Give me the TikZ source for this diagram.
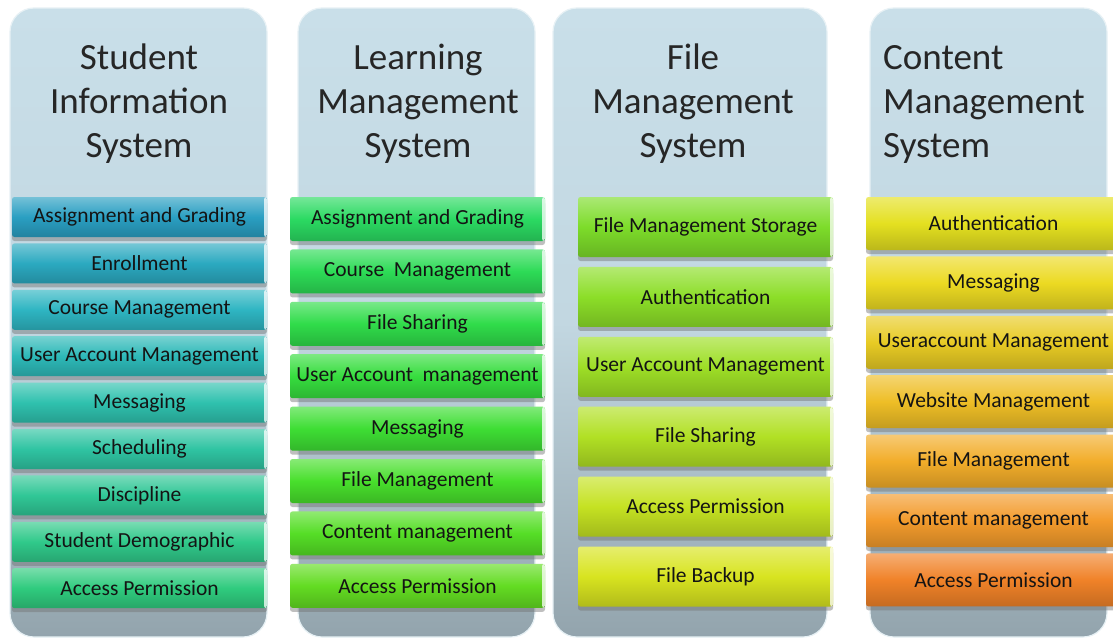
\documentclass[tikz,border=0pt]{standalone}
\usepackage{fontspec}
\setmainfont{Carlito}
\usetikzlibrary{positioning, shadows}

% Panel colours
\definecolor{panelTop}{HTML}{C9DFE9}
\definecolor{panelMid}{HTML}{C2D7E1}
\definecolor{panelBot}{HTML}{93A4AD}

% Student Information System
\definecolor{sisA}{HTML}{2A9FC2}
\definecolor{sisB}{HTML}{2BA9C0}
\definecolor{sisC}{HTML}{2EB5C2}
\definecolor{sisD}{HTML}{2DB9B8}
\definecolor{sisE}{HTML}{2FC1AE}
\definecolor{sisF}{HTML}{2FC4A2}
\definecolor{sisG}{HTML}{30C796}
\definecolor{sisH}{HTML}{30C98A}
\definecolor{sisI}{HTML}{2FCB7E}

% Learning Management System
\definecolor{lmsA}{HTML}{2BDA62}
\definecolor{lmsB}{HTML}{2DDB56}
\definecolor{lmsC}{HTML}{30DC4A}
\definecolor{lmsD}{HTML}{36DD3E}
\definecolor{lmsE}{HTML}{3EDE34}
\definecolor{lmsF}{HTML}{48DF2C}
\definecolor{lmsG}{HTML}{55DE26}
\definecolor{lmsH}{HTML}{63DC22}

% File Management System
\definecolor{fmsA}{HTML}{7DDC2A}
\definecolor{fmsB}{HTML}{8CDE28}
\definecolor{fmsC}{HTML}{9EDF26}
\definecolor{fmsD}{HTML}{B1E024}
\definecolor{fmsE}{HTML}{C5E222}
\definecolor{fmsF}{HTML}{D8E420}

% Content Management System
\definecolor{cmsA}{HTML}{E4E020}
\definecolor{cmsB}{HTML}{ECDA22}
\definecolor{cmsC}{HTML}{E8CB24}
\definecolor{cmsD}{HTML}{EEBE26}
\definecolor{cmsE}{HTML}{F2AD2A}
\definecolor{cmsF}{HTML}{F39B2C}
\definecolor{cmsG}{HTML}{F08228}

\begin{document}
\begin{tikzpicture}[x=1pt, y=-1pt,
    panel/.style={top color=panelTop, bottom color=panelBot, middle color=panelMid,
        draw=white!55!panelTop, line width=1.2pt, rounded corners=24pt},
    title/.style={font=\fontsize{37}{44}\selectfont, align=center, inner sep=0pt, text=black!85},
    item/.style={minimum width=255pt, rounded corners=2.5pt, inner sep=0pt,
        font=\fontsize{21.5}{25}\selectfont, text=black!92,
        top color=#1!65!white, bottom color=#1!82!black, middle color=#1,
        drop shadow={shadow xshift=0pt, shadow yshift=-4pt, opacity=0.45, fill=black!55},
        path picture={\fill[white, opacity=0.75] ([xshift=-3pt]path picture bounding box.north east)
            rectangle (path picture bounding box.south east);}},
    sisbox/.style={item=#1, minimum height=40pt},
    lmsbox/.style={item=#1, minimum height=44pt},
    fmsbox/.style={item=#1, minimum height=60pt},
    cmsbox/.style={item=#1, minimum height=53pt}]

    \useasboundingbox (0,0) rectangle (1113,637);

    % Background panels
    \fill[white] (0,0) rectangle (1113,637);
    \draw[panel] (10,8) rectangle (267,637);
    \draw[panel] (298,8) rectangle (535,637);
    \draw[panel] (553,8) rectangle (827,637);
    \draw[panel] (870,8) rectangle (1107,637);

    % Titles
    \node[title] (sistitle) at (139,104) {Student\\Information\\System};
    \node[title] (lmstitle) at (418,104) {Learning\\Management\\System};
    \node[title] (fmstitle) at (693,104) {File\\Management\\System};
    \node[title, align=left, anchor=west] (cmstitle) at (883,104) {Content\\Management\\System};

    % Student Information System
    \node[sisbox=sisA] (sis1) at (139.5,217) {Assignment and Grading};
    \node[sisbox=sisB, below=6pt of sis1] (sis2) {Enrollment};
    \node[sisbox=sisC, below=6pt of sis2] (sis3) {Course Management};
    \node[sisbox=sisD, below=6pt of sis3] (sis4) {User Account Management};
    \node[sisbox=sisE, below=6pt of sis4] (sis5) {Messaging};
    \node[sisbox=sisF, below=6pt of sis5] (sis6) {Scheduling};
    \node[sisbox=sisG, below=6pt of sis6] (sis7) {Discipline};
    \node[sisbox=sisH, below=6pt of sis7] (sis8) {Student Demographic};
    \node[sisbox=sisI, below=6pt of sis8] (sis9) {Access Permission};

    % Learning Management System
    \node[lmsbox=lmsA] (lms1) at (417.5,219) {Assignment and Grading};
    \node[lmsbox=lmsB, below=8pt of lms1] (lms2) {Course~ Management};
    \node[lmsbox=lmsC, below=8pt of lms2] (lms3) {File Sharing};
    \node[lmsbox=lmsD, below=8pt of lms3] (lms4) {User Account~ management};
    \node[lmsbox=lmsE, below=8pt of lms4] (lms5) {Messaging};
    \node[lmsbox=lmsF, below=8pt of lms5] (lms6) {File Management};
    \node[lmsbox=lmsG, below=8pt of lms6] (lms7) {Content management};
    \node[lmsbox=lmsH, below=8pt of lms7] (lms8) {Access Permission};

    % File Management System
    \node[fmsbox=fmsA] (fms1) at (705.5,227) {File Management Storage};
    \node[fmsbox=fmsB, below=9.5pt of fms1] (fms2) {Authentication};
    \node[fmsbox=fmsC, below=9.5pt of fms2] (fms3) {User Account Management};
    \node[fmsbox=fmsD, below=9.5pt of fms3] (fms4) {File Sharing};
    \node[fmsbox=fmsE, below=9.5pt of fms4] (fms5) {Access Permission};
    \node[fmsbox=fmsF, below=9.5pt of fms5] (fms6) {File Backup};

    % Content Management System
    \node[cmsbox=cmsA] (cms1) at (993.5,223.5) {Authentication};
    \node[cmsbox=cmsB, below=6pt of cms1] (cms2) {Messaging};
    \node[cmsbox=cmsC, below=6pt of cms2] (cms3) {Useraccount Management};
    \node[cmsbox=cmsD, below=6pt of cms3] (cms4) {Website Management};
    \node[cmsbox=cmsE, below=6pt of cms4] (cms5) {File Management};
    \node[cmsbox=cmsF, below=6pt of cms5] (cms6) {Content management};
    \node[cmsbox=cmsG, below=6pt of cms6] (cms7) {Access Permission};
\end{tikzpicture}
\end{document}
